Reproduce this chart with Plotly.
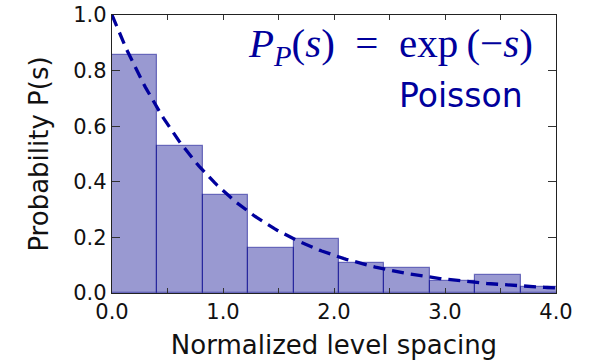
import numpy as np
import plotly.graph_objects as go

# ---- data ----
bin_width = 0.409
bin_lefts = [0.0, 0.409, 0.818, 1.227, 1.636, 2.045, 2.454, 2.863, 3.272, 3.681]
prob_heights = [0.857, 0.529, 0.351, 0.161, 0.194, 0.108, 0.091, 0.043, 0.065, 0.022]

x_tickvals = [0.0, 1.0, 2.0, 3.0, 4.0]
x_ticktext = ["0.0", "1.0", "2.0", "3.0", "4.0"]
y_tickvals = [0.0, 0.2, 0.4, 0.6, 0.8, 1.0]
y_ticktext = ["0.0", "0.2", "0.4", "0.6", "0.8", "1.0"]

# theoretical Poisson curve P(s) = exp(-s), as stated in the chart
s_curve = np.linspace(0, 4, 200)
p_curve = np.exp(-s_curve)

DARK = "#00009c"

fig = go.Figure()
fig.add_trace(go.Bar(
    x=bin_lefts, y=prob_heights, width=[bin_width] * len(bin_lefts), offset=0,
    marker=dict(color="rgba(0,0,139,0.4)",
                line=dict(color="rgba(0,0,139,0.5)", width=1.2)),
    showlegend=False,
))
fig.add_trace(go.Scatter(
    x=s_curve, y=p_curve, mode="lines",
    line=dict(color=DARK, width=3.3, dash="12px,7px"),
    showlegend=False,
))

axis_common = dict(
    showline=True, linecolor="#222", linewidth=1.3, mirror="ticks",
    ticks="inside", tickcolor="#333", tickwidth=1,
    showgrid=False, zeroline=False, automargin=False,
    tickfont=dict(family="DejaVu Sans", size=21, color="#111"),
)

fig.update_layout(
    width=589, height=364,
    margin=dict(l=112, r=33, t=15, b=71),
    paper_bgcolor="white", plot_bgcolor="white",
    bargap=0,
    xaxis=dict(range=[0, 4.0], tickmode="array", tickvals=x_tickvals,
               ticktext=x_ticktext, ticklen=5,
               minor=dict(tickmode="array", tickvals=[0.5, 1.5, 2.5, 3.5],
                          ticks="inside", ticklen=5, tickcolor="#333", tickwidth=1),
               title=dict(text="Normalized level spacing", standoff=12,
                          font=dict(family="DejaVu Sans", size=26, color="#111")),
               **axis_common),
    yaxis=dict(range=[0, 1.0], tickmode="array", tickvals=y_tickvals,
               ticktext=y_ticktext, ticklen=8,
               title=dict(text="Probability P(s)", standoff=17,
                          font=dict(family="DejaVu Sans", size=26, color="#111")),
               **axis_common),
    annotations=[
        dict(xref="paper", yref="paper", x=0.953, y=0.89,
             xanchor="right", yanchor="middle", showarrow=False,
             text="<i>P</i><sub><i>P</i></sub>(<i>s</i>)\u2002=\u2002exp\u2009(\u2212<i>s</i>)",
             font=dict(family="Liberation Serif", size=41, color=DARK)),
        dict(xref="paper", yref="paper", x=0.93, y=0.71,
             xanchor="right", yanchor="middle", showarrow=False,
             text="Poisson",
             font=dict(family="DejaVu Sans", size=33, color=DARK)),
    ],
)

fig.write_html("out.html")
